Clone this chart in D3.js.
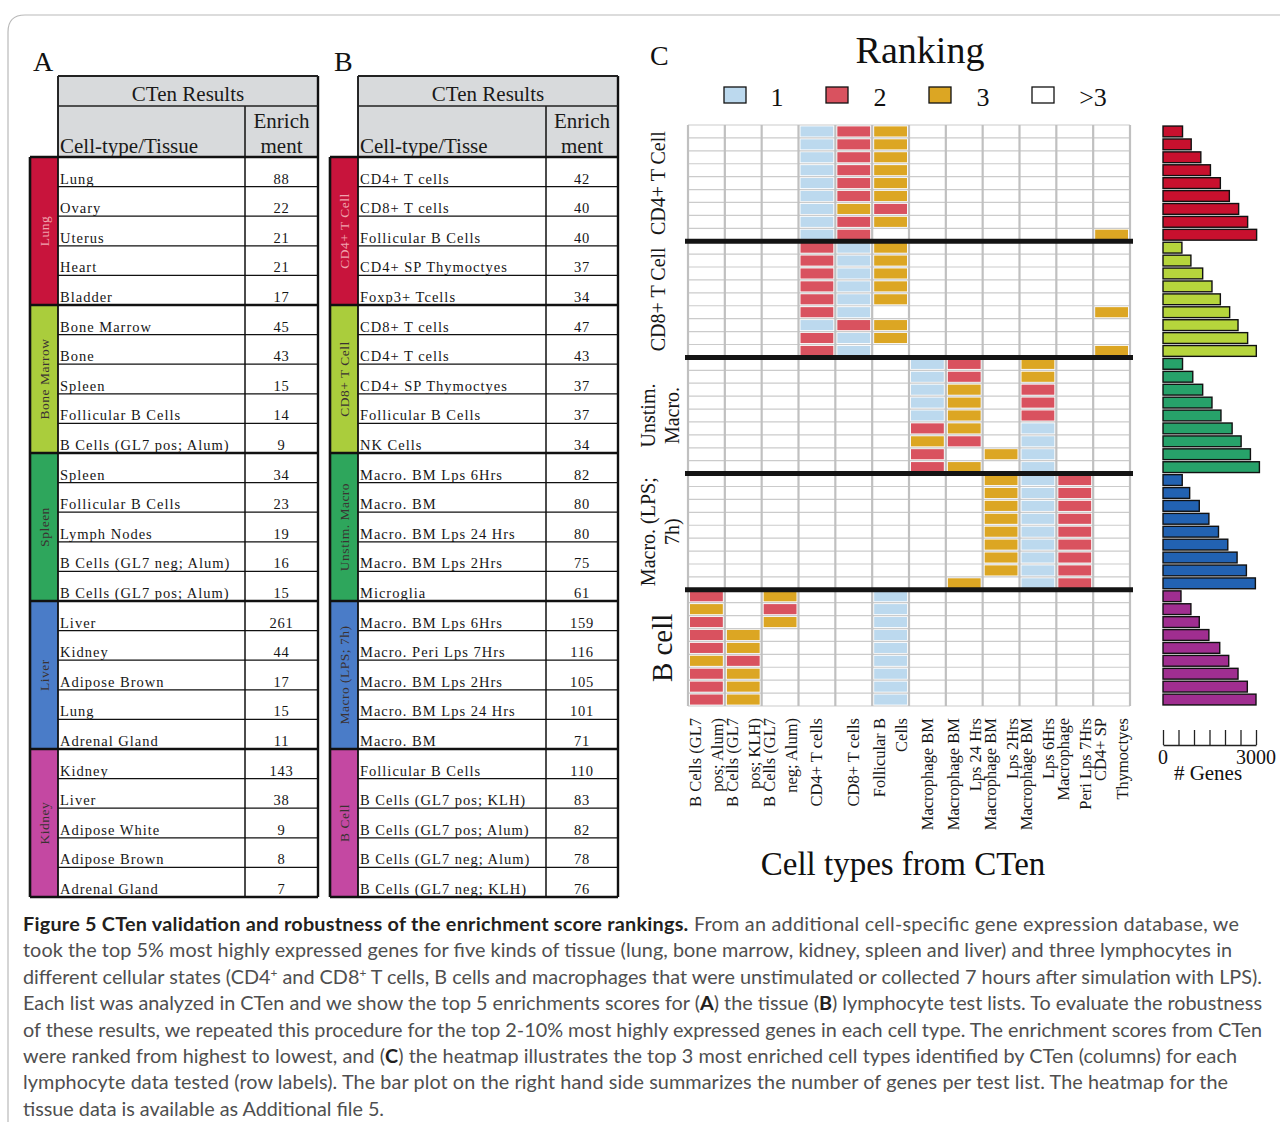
<!DOCTYPE html>
<html lang="en">
<head>
<meta charset="UTF-8">
<title>CTen validation - Figure 5</title>
<script src="https://d3js.org/d3.v7.min.js"></script>
<style>
  body { margin: 0; background: #fff; }
  svg { display: block; }
</style>
</head>
<body>
<svg width="1280" height="1125"></svg>
<script>
// ---------- A: tissue test lists ----------
const tissueGroups = ["Lung", "Bone Marrow", "Spleen", "Liver", "Kidney"];
const tissueNames = [
  "Lung", "Ovary", "Uterus", "Heart", "Bladder",
  "Bone Marrow", "Bone", "Spleen", "Follicular B Cells", "B Cells (GL7 pos; Alum)",
  "Spleen", "Follicular B Cells", "Lymph Nodes", "B Cells (GL7 neg; Alum)", "B Cells (GL7 pos; Alum)",
  "Liver", "Kidney", "Adipose Brown", "Lung", "Adrenal Gland",
  "Kidney", "Liver", "Adipose White", "Adipose Brown", "Adrenal Gland"
];
const tissueScores = [88, 22, 21, 21, 17, 45, 43, 15, 14, 9, 34, 23, 19, 16, 15, 261, 44, 17, 15, 11, 143, 38, 9, 8, 7];

// ---------- B: lymphocyte test lists ----------
const lymphGroups = ["CD4+ T Cell", "CD8+ T Cell", "Unstim. Macro", "Macro (LPS; 7h)", "B Cell"];
const lymphNames = [
  "CD4+ T cells", "CD8+ T cells", "Follicular B Cells", "CD4+ SP Thymoctyes", "Foxp3+ Tcells",
  "CD8+ T cells", "CD4+ T cells", "CD4+ SP Thymoctyes", "Follicular B Cells", "NK Cells",
  "Macro. BM Lps 6Hrs", "Macro. BM", "Macro. BM Lps 24 Hrs", "Macro. BM Lps 2Hrs", "Microglia",
  "Macro. BM Lps 6Hrs", "Macro. Peri Lps 7Hrs", "Macro. BM Lps 2Hrs", "Macro. BM Lps 24 Hrs", "Macro. BM",
  "Follicular B Cells", "B Cells (GL7 pos; KLH)", "B Cells (GL7 pos; Alum)", "B Cells (GL7 neg; Alum)", "B Cells (GL7 neg; KLH)"
];
const lymphScores = [42, 40, 40, 37, 34, 47, 43, 37, 37, 34, 82, 80, 80, 75, 61, 159, 116, 105, 101, 71, 110, 83, 82, 78, 76];

// ---------- C: heatmap of ranks (0 = >3) ----------
const cellTypes = [
  ["B Cells (GL7", "pos; Alum)"], ["B Cells (GL7", "pos; KLH)"], ["B Cells (GL7", "neg; Alum)"],
  ["CD4+ T cells"], ["CD8+ T cells"], ["Follicular B", "Cells"], ["Macrophage BM"],
  ["Macrophage BM", "Lps 24 Hrs"], ["Macrophage BM", "Lps 2Hrs"], ["Macrophage BM", "Lps 6Hrs"],
  ["Macrophage", "Peri Lps 7Hrs"], ["CD4+ SP", "Thymoctyes"]
];
const testGroups = [["CD4+ T Cell"], ["CD8+ T Cell"], ["Unstim.", "Macro."], ["Macro. (LPS;", "7h)"], ["B cell"]];

const cd4Ranks = [
  [0,0,0,1,2,3,0,0,0,0,0,0], [0,0,0,1,2,3,0,0,0,0,0,0], [0,0,0,1,2,3,0,0,0,0,0,0],
  [0,0,0,1,2,3,0,0,0,0,0,0], [0,0,0,1,2,3,0,0,0,0,0,0], [0,0,0,1,2,3,0,0,0,0,0,0],
  [0,0,0,1,3,2,0,0,0,0,0,0], [0,0,0,1,2,3,0,0,0,0,0,0], [0,0,0,1,2,0,0,0,0,0,0,3]
];
const cd8Ranks = [
  [0,0,0,2,1,3,0,0,0,0,0,0], [0,0,0,2,1,3,0,0,0,0,0,0], [0,0,0,2,1,3,0,0,0,0,0,0],
  [0,0,0,2,1,3,0,0,0,0,0,0], [0,0,0,2,1,3,0,0,0,0,0,0], [0,0,0,2,1,0,0,0,0,0,0,3],
  [0,0,0,1,2,3,0,0,0,0,0,0], [0,0,0,2,1,3,0,0,0,0,0,0], [0,0,0,2,1,0,0,0,0,0,0,3]
];
const unstimRanks = [
  [0,0,0,0,0,0,1,2,0,3,0,0], [0,0,0,0,0,0,1,2,0,3,0,0], [0,0,0,0,0,0,1,3,0,2,0,0],
  [0,0,0,0,0,0,1,3,0,2,0,0], [0,0,0,0,0,0,1,3,0,2,0,0], [0,0,0,0,0,0,2,3,0,1,0,0],
  [0,0,0,0,0,0,3,2,0,1,0,0], [0,0,0,0,0,0,2,0,3,1,0,0], [0,0,0,0,0,0,2,3,0,1,0,0]
];
const lpsRanks = [
  [0,0,0,0,0,0,0,0,3,1,2,0], [0,0,0,0,0,0,0,0,3,1,2,0], [0,0,0,0,0,0,0,0,3,1,2,0],
  [0,0,0,0,0,0,0,0,3,1,2,0], [0,0,0,0,0,0,0,0,3,1,2,0], [0,0,0,0,0,0,0,0,3,1,2,0],
  [0,0,0,0,0,0,0,0,3,1,2,0], [0,0,0,0,0,0,0,0,3,1,2,0], [0,0,0,0,0,0,0,3,0,1,2,0]
];
const bcellRanks = [
  [2,0,3,0,0,1,0,0,0,0,0,0], [3,0,2,0,0,1,0,0,0,0,0,0], [2,0,3,0,0,1,0,0,0,0,0,0],
  [2,3,0,0,0,1,0,0,0,0,0,0], [2,3,0,0,0,1,0,0,0,0,0,0], [3,2,0,0,0,1,0,0,0,0,0,0],
  [2,3,0,0,0,1,0,0,0,0,0,0], [2,3,0,0,0,1,0,0,0,0,0,0], [2,3,0,0,0,1,0,0,0,0,0,0]
];

// number of genes per test list (bar plot)
const cd4Genes = [630, 910, 1220, 1530, 1850, 2140, 2440, 2730, 3020];
const cd8Genes = [610, 900, 1280, 1580, 1850, 2150, 2420, 2730, 3010];
const unstimGenes = [630, 960, 1280, 1580, 1870, 2230, 2520, 2820, 3110];
const lpsGenes = [620, 860, 1170, 1480, 1790, 2090, 2390, 2690, 2980];
const bcellGenes = [580, 900, 1170, 1480, 1830, 2120, 2420, 2720, 3000];
const geneTicks = [0, 500, 1000, 1500, 2000, 2500, 3000];

const rankKeys = ["1", "2", "3", ">3"];

// ---------- styling ----------
const SERIF = '"Liberation Serif", "Times New Roman", serif';
const groupColors = ["#c8143c", "#aacd3c", "#2ea65c", "#4a7cc8", "#c448a2"];
const barColors = ["#c8102e", "#b6d53c", "#27a26a", "#2262b2", "#a02e90"];
const rankColor = d3.scaleOrdinal().domain([1, 2, 3]).range(["#bcd9ee", "#d9525f", "#dca623"]);

const svg = d3.select("svg");
svg.append("rect").attr("width", 1280).attr("height", 1125).attr("fill", "#fff");

// page frame
svg.append("path")
  .attr("d", "M8,1122 V32 Q8,15 25,15 H1280")
  .attr("fill", "none").attr("stroke", "#b9b9b9").attr("stroke-width", 1.2);

// panel letters
[["A", 33, 71], ["B", 334, 71], ["C", 650, 65]].forEach(([t, x, y]) => {
  svg.append("text").attr("x", x).attr("y", y).attr("font-family", SERIF)
    .attr("font-size", 28).attr("fill", "#111").text(t);
});

// ---------- tables ----------
const tblY = d3.scaleLinear().domain([0, 25]).range([157, 897]);

function drawTable(x0, xName, xDiv, xRight, colTitle, groups, names, scores) {
  const g = svg.append("g").attr("font-family", SERIF);

  // header
  g.append("rect").attr("x", xName).attr("y", 76).attr("width", xRight - xName)
    .attr("height", 157 - 76).attr("fill", "#d8dadc");
  g.append("text").attr("x", (xName + xRight) / 2).attr("y", 101).attr("text-anchor", "middle")
    .attr("font-size", 21).attr("fill", "#1a1a1a").text("CTen Results");
  g.append("text").attr("x", xName + 2).attr("y", 153)
    .attr("font-size", 21).attr("fill", "#1a1a1a").text(colTitle);
  g.append("text").attr("x", (xDiv + xRight) / 2).attr("y", 128).attr("text-anchor", "middle")
    .attr("font-size", 21).attr("fill", "#1a1a1a").text("Enrich");
  g.append("text").attr("x", (xDiv + xRight) / 2).attr("y", 153).attr("text-anchor", "middle")
    .attr("font-size", 21).attr("fill", "#1a1a1a").text("ment");

  // group colour bars
  const gb = g.selectAll(".grp").data(groups).enter().append("g").attr("class", "grp");
  gb.append("rect")
    .attr("x", x0).attr("y", (d, i) => tblY(i * 5))
    .attr("width", xName - x0).attr("height", tblY(5) - tblY(0))
    .attr("fill", (d, i) => groupColors[i]);
  gb.append("text")
    .attr("transform", (d, i) => `translate(${(x0 + xName) / 2},${(tblY(i * 5) + tblY(i * 5 + 5)) / 2}) rotate(-90)`)
    .attr("text-anchor", "middle").attr("dy", "0.35em")
    .attr("font-size", 13.5).attr("letter-spacing", 0.5)
    .attr("fill", (d, i) => i === 0 ? "#f0a3ae" : "#3a3232")
    .text(d => d);

  // body rows
  const rows = g.selectAll(".row").data(names).enter().append("g").attr("class", "row");
  rows.append("text")
    .attr("x", xName + 2).attr("y", (d, i) => tblY(i + 1) - 3)
    .attr("font-size", 14.5).attr("letter-spacing", 1).attr("fill", "#161616")
    .text(d => d);
  rows.append("text")
    .attr("x", (xDiv + xRight) / 2).attr("y", (d, i) => tblY(i + 1) - 3)
    .attr("text-anchor", "middle").attr("font-size", 14.5).attr("letter-spacing", 0.8).attr("fill", "#161616")
    .text((d, i) => scores[i]);

  // rules
  d3.range(26).forEach(i => {
    const major = i % 5 === 0;
    g.append("line")
      .attr("x1", major ? x0 : xName).attr("x2", xRight)
      .attr("y1", tblY(i)).attr("y2", tblY(i))
      .attr("stroke", "#111").attr("stroke-width", major ? 2.6 : 1.3);
  });
  [[xName, 76, 1.8], [xRight, 76, 2.4], [xDiv, 106, 1.5], [x0, 157, 2.6]].forEach(([x, y1, w]) => {
    g.append("line").attr("x1", x).attr("x2", x).attr("y1", y1).attr("y2", tblY(25))
      .attr("stroke", "#111").attr("stroke-width", w);
  });
  [[76, 1.8], [106, 1.5]].forEach(([y, w]) => {
    g.append("line").attr("x1", xName).attr("x2", xRight).attr("y1", y).attr("y2", y)
      .attr("stroke", "#222").attr("stroke-width", w);
  });
}

drawTable(30, 58, 245, 318, "Cell-type/Tissue", tissueGroups, tissueNames, tissueScores);
drawTable(330, 358, 546, 618, "Cell-type/Tisse", lymphGroups, lymphNames, lymphScores);

// ---------- C: heatmap ----------
const rankGroups = [cd4Ranks, cd8Ranks, unstimRanks, lpsRanks, bcellRanks];
const geneGroups = [cd4Genes, cd8Genes, unstimGenes, lpsGenes, bcellGenes];
const nRows = 45;

const xCol = d3.scaleBand().domain(d3.range(cellTypes.length)).range([688, 1130]);
const yRow = d3.scaleBand().domain(d3.range(nRows)).range([125, 706]);
const bw = xCol.bandwidth(), bh = yRow.bandwidth();

const hm = svg.append("g");

// grid
d3.range(nRows + 1).forEach(r => {
  const y = r < nRows ? yRow(r) : 706;
  hm.append("line").attr("x1", 688).attr("x2", 1130).attr("y1", y).attr("y2", y)
    .attr("stroke", "#cbcbcb").attr("stroke-width", 1.2);
});
d3.range(cellTypes.length + 1).forEach(c => {
  const x = c < cellTypes.length ? xCol(c) : 1130;
  hm.append("line").attr("x1", x).attr("x2", x).attr("y1", 125).attr("y2", 706)
    .attr("stroke", "#c0c0c0").attr("stroke-width", 2.2);
});

// cells
const cells = [];
rankGroups.forEach((grp, gi) => grp.forEach((row, ri) => row.forEach((rank, ci) => {
  if (rank > 0) cells.push({ r: gi * 9 + ri, c: ci, rank });
})));
hm.selectAll(".cell").data(cells).enter().append("rect").attr("class", "cell")
  .attr("x", d => xCol(d.c) + 2).attr("y", d => yRow(d.r) + 1.4)
  .attr("width", bw - 4).attr("height", bh - 2.8)
  .attr("fill", d => rankColor(d.rank));

// group dividers
d3.range(1, 5).forEach(k => {
  hm.append("line").attr("x1", 685).attr("x2", 1133)
    .attr("y1", yRow(k * 9)).attr("y2", yRow(k * 9))
    .attr("stroke", "#141414").attr("stroke-width", 5);
});

// row group labels
testGroups.forEach((lines, gi) => {
  const cy = (yRow(gi * 9) + yRow(gi * 9 + 8) + bh) / 2;
  const big = lines[0] === "B cell";
  const xs = lines.length === 1 ? [big ? 662 : 658] : [648, 672];
  lines.forEach((t, li) => {
    svg.append("text")
      .attr("transform", `translate(${xs[li]},${cy}) rotate(-90)`)
      .attr("text-anchor", "middle").attr("dy", "0.35em")
      .attr("font-family", SERIF).attr("font-size", big ? 29 : 20).attr("fill", "#161616")
      .text(t);
  });
});

// column labels
cellTypes.forEach((lines, ci) => {
  const cx = xCol(ci) + bw / 2;
  const g = svg.append("g").attr("transform", `translate(${cx},718) rotate(-90)`);
  lines.forEach((t, li) => {
    const off = lines.length === 1 ? 0 : (li === 0 ? -11 : 11);
    g.append("text").attr("x", 0).attr("y", off + 5.5).attr("text-anchor", "end")
      .attr("font-family", SERIF).attr("font-size", 16.5).attr("fill", "#161616").text(t);
  });
});

svg.append("text").attr("x", 903).attr("y", 875).attr("text-anchor", "middle")
  .attr("font-family", SERIF).attr("font-size", 33).attr("fill", "#111").text("Cell types from CTen");

// title + legend
svg.append("text").attr("x", 920).attr("y", 63).attr("text-anchor", "middle")
  .attr("font-family", SERIF).attr("font-size", 38).attr("fill", "#111").text("Ranking");
const legX = [724, 826, 929, 1032];
const legLabX = [777, 880, 983, 1093];
rankKeys.forEach((k, i) => {
  svg.append("rect").attr("x", legX[i]).attr("y", 87).attr("width", 22).attr("height", 16)
    .attr("fill", i < 3 ? rankColor(i + 1) : "#fff").attr("stroke", "#111").attr("stroke-width", 1.3);
  svg.append("text").attr("x", legLabX[i]).attr("y", 106).attr("text-anchor", "middle")
    .attr("font-family", SERIF).attr("font-size", 26).attr("fill", "#111").text(k);
});

// ---------- bar plot (# genes) ----------
const xGenes = d3.scaleLinear().domain([0, 3000]).range([1163, 1256]);
const bars = [];
geneGroups.forEach((vals, gi) => vals.forEach((v, ri) => bars.push({ r: gi * 9 + ri, v, gi })));
const barH = 10.8;
svg.append("g").selectAll("rect").data(bars).enter().append("rect")
  .attr("x", xGenes(0)).attr("y", d => yRow(d.r) + (bh - barH) / 2)
  .attr("width", d => xGenes(d.v) - xGenes(0)).attr("height", barH)
  .attr("fill", d => barColors[d.gi]).attr("stroke", "#111").attr("stroke-width", 1.4);

const axis = svg.append("g").attr("transform", "translate(0,745)")
  .call(d3.axisTop(xGenes).tickValues(geneTicks).tickSize(15).tickSizeOuter(0).tickFormat(""));
axis.selectAll("path,line").attr("stroke", "#222").attr("stroke-width", 1.3);
[[0, "0"], [3000, "3000"]].forEach(([v, t]) => {
  svg.append("text").attr("x", xGenes(v)).attr("y", 764).attr("text-anchor", "middle")
    .attr("font-family", SERIF).attr("font-size", 20).attr("fill", "#111").text(t);
});
svg.append("text").attr("x", 1208).attr("y", 780).attr("text-anchor", "middle")
  .attr("font-family", SERIF).attr("font-size", 21).attr("fill", "#111").text("# Genes");

// ---------- caption ----------
const captionLines = [
  [["Figure 5 CTen validation and robustness of the enrichment score rankings.", "b"], [" From an additional cell-specific gene expression database, we", ""]],
  [["took the top 5% most highly expressed genes for five kinds of tissue (lung, bone marrow, kidney, spleen and liver) and three lymphocytes in", ""]],
  [["different cellular states (CD4", ""], ["+", "sup"], [" and CD8", ""], ["+", "sup"], [" T cells, B cells and macrophages that were unstimulated or collected 7 hours after simulation with LPS).", ""]],
  [["Each list was analyzed in CTen and we show the top 5 enrichments scores for (", ""], ["A", "b"], [") the tissue (", ""], ["B", "b"], [") lymphocyte test lists. To evaluate the robustness", ""]],
  [["of these results, we repeated this procedure for the top 2-10% most highly expressed genes in each cell type. The enrichment scores from CTen", ""]],
  [["were ranked from highest to lowest, and (", ""], ["C", "b"], [") the heatmap illustrates the top 3 most enriched cell types identified by CTen (columns) for each", ""]],
  [["lymphocyte data tested (row labels). The bar plot on the right hand side summarizes the number of genes per test list. The heatmap for the", ""]],
  [["tissue data is available as Additional file 5.", ""]]
];
const captionEnds = [1239, 1232, 1262, 1262, 1262, 1237, 1228, 384];
const CAP_X = 23;

const capTexts = captionLines.map((segs, li) => {
  const t = svg.append("text").attr("x", CAP_X).attr("y", 931 + li * 26.4)
    .attr("font-family", "Lato, 'Open Sans', sans-serif").attr("font-size", 18).attr("fill", "#4f4f4f");
  let shifted = false;
  segs.forEach(([s, kind]) => {
    const sp = t.append("tspan").text(s);
    if (kind === "b") sp.attr("font-weight", "bold").attr("fill", "#231f20");
    if (kind === "sup") { sp.attr("font-size", 11).attr("dy", -7).attr("class", "sup"); shifted = true; }
    else if (shifted) { sp.attr("dy", 7); shifted = false; }
  });
  return t;
});
// scale the caption font so the widest full line fits its measured width
const ref = capTexts[2];
const fs = 18 * (captionEnds[2] - CAP_X) / ref.node().getComputedTextLength();
capTexts.forEach((t, li) => {
  t.attr("font-size", fs);
  t.selectAll(".sup").attr("font-size", fs * 0.6);
  const target = captionEnds[li] - CAP_X;
  const natural = t.node().getComputedTextLength();
  if (Math.abs(natural - target) / target < 0.05) {
    t.attr("textLength", target).attr("lengthAdjust", "spacing");
  }
});
</script>
</body>
</html>
